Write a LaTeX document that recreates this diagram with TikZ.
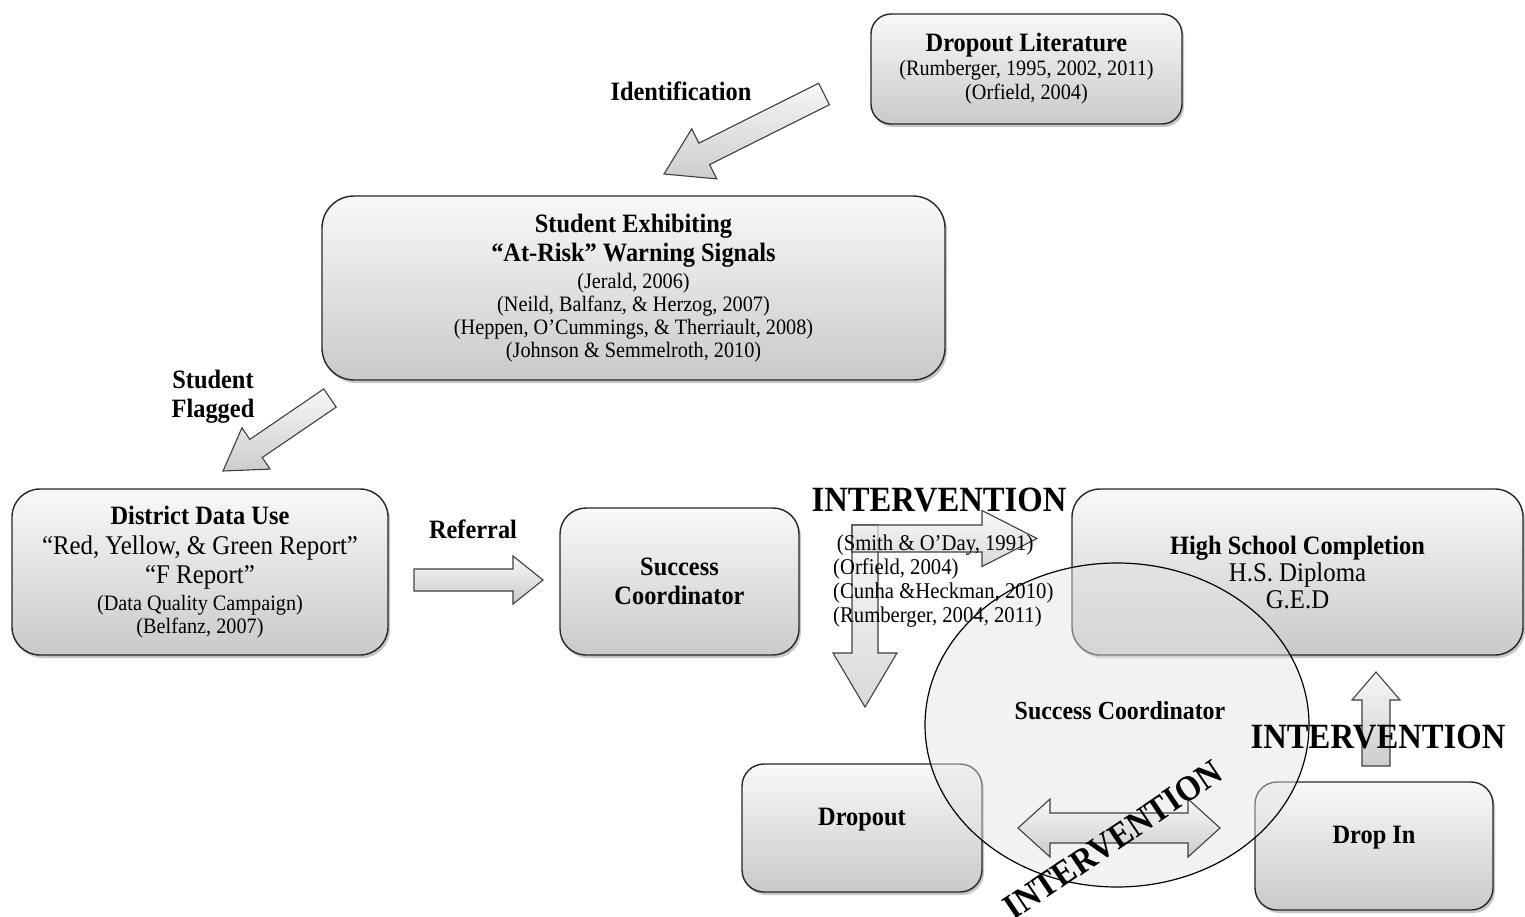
\documentclass[tikz,border=0pt]{standalone}
\usepackage{fontspec}
\setmainfont{Liberation Serif}[FakeStretch=0.92]
\usetikzlibrary{calc,shapes.geometric,shadows}
\newcommand\mytitlefont{\fontsize{26.5}{28}\selectfont\bfseries}
\newcommand\mymidfont{\fontsize{27}{27}\selectfont}
\newcommand\blockarr[6]{%
  \coordinate (ba-B) at ($(#3)!#6!(#2)$);
  \path[#1] ($(#2)!#4!90:(#3)$) -- ($(ba-B)!#4!-90:(#2)$) -- ($(ba-B)!#5!-90:(#2)$) -- (#3)
    -- ($(ba-B)!#5!90:(#2)$) -- ($(ba-B)!#4!90:(#2)$) -- ($(#2)!#4!-90:(#3)$) -- cycle;
}
\tikzset{
  box/.style={draw=black!85, line width=1.4pt, rounded corners=20pt, top color=gray!5, bottom color=gray!42,
    drop shadow={opacity=0.45, shadow xshift=2pt, shadow yshift=-3pt}, align=center, inner sep=0pt,
    font=\fontsize{22}{23}\selectfont},
  barrow/.style={draw=black!75, line width=1.1pt, top color=gray!6, bottom color=gray!40, line join=miter},
  lbl/.style={font=\fontsize{26.5}{29}\selectfont\bfseries, align=center, inner sep=0pt},
  big/.style={font=\fontsize{35.5}{38}\selectfont\bfseries, inner sep=0pt},
  cit/.style={font=\fontsize{22.5}{24}\selectfont, align=left, inner sep=0pt},
}
\begin{document}
\begin{tikzpicture}[x=1pt,y=-1pt]
\useasboundingbox (0,0) rectangle (1525,917);
% boxes
\node[box, minimum width=311, minimum height=110] (lit) at (1026.5,69)
  {{\mytitlefont Dropout Literature}\\[1pt](Rumberger, 1995, 2002, 2011)\\[1pt](Orfield, 2004)};
\node[box, rounded corners=32pt, minimum width=623, minimum height=184] (stu) at (633.5,288)
  {{\mytitlefont Student Exhibiting}\\[4pt]{\mytitlefont “At-Risk” Warning Signals}\\[4pt](Jerald, 2006)\\(Neild, Balfanz, \& Herzog, 2007)\\(Heppen, O’Cummings, \& Therriault, 2008)\\(Johnson \& Semmelroth, 2010)};
\node[box, rounded corners=28pt, minimum width=376, minimum height=166] (dist) at (200,572)
  {{\mytitlefont District Data Use}\\[7pt]{\mymidfont “Red, Yellow, \& Green Report”}\\[4pt]{\mymidfont “F Report”}\\[4pt](Data Quality Campaign)\\(Belfanz, 2007)};
\node[box, rounded corners=26pt, minimum width=239, minimum height=147] (sc) at (679.5,581.5)
  {{\mytitlefont Success}\\[6pt]{\mytitlefont Coordinator}};
\node[box, rounded corners=28pt, minimum width=451, minimum height=166, font=\fontsize{27}{27}\selectfont] (hsc) at (1297.5,572)
  {{\mytitlefont High School Completion}\\H.S. Diploma\\G.E.D};
\node[box, rounded corners=22pt, minimum width=240, minimum height=128, text depth=22pt] (drop) at (862,828)
  {\mytitlefont Dropout};
\node[box, rounded corners=22pt, minimum width=238, minimum height=128, text depth=22pt] (dropin) at (1374,846)
  {\mytitlefont Drop In};
% block arrows
\coordinate (idT) at (824,94);   \coordinate (idH) at (664,174);
\coordinate (sfT) at (330,398);  \coordinate (sfH) at (223,471);
\coordinate (rfT) at (414,580);  \coordinate (rfH) at (543,580);
\coordinate (ivT) at (865,525);  \coordinate (ivH) at (865,707);
\coordinate (ihT) at (852,538.5);\coordinate (ihH) at (1037,538.5);
\coordinate (upT) at (1376,766); \coordinate (upH) at (1376,672);
\blockarr{barrow}{idT}{idH}{12pt}{28pt}{45pt}
\blockarr{barrow}{sfT}{sfH}{11pt}{25pt}{40pt}
\blockarr{barrow}{rfT}{rfH}{11pt}{24pt}{30pt}
\blockarr{barrow, fill opacity=0.75}{ivT}{ivH}{13pt}{32pt}{54pt}
\blockarr{barrow, fill opacity=0.75}{ihT}{ihH}{13.5pt}{28pt}{55pt}
\blockarr{barrow}{upT}{upH}{14pt}{24pt}{28pt}
% success coordinator ellipse
\node[ellipse, draw=black, line width=1.2pt, fill=gray!22, fill opacity=0.45, minimum width=384, minimum height=324] (circ) at (1117,725) {};
\node[font=\fontsize{26}{28}\selectfont\bfseries, inner sep=0pt] (circT) at (1120,711) {Success Coordinator};
% double arrow
\path[barrow] (1018,828) -- (1050,799) -- (1050,813) -- (1188,813) -- (1188,799) -- (1220,828)
  -- (1188,857) -- (1188,843) -- (1050,843) -- (1050,857) -- cycle;
% labels
\node[lbl] (idL) at (681,91) {Identification};
\node[lbl] (sfL) at (213,397) {Student\\Flagged};
\node[lbl] (rfL) at (473,529) {Referral};
\node[big] (iv1) at (939,500) {INTERVENTION};
\node[cit, anchor=west] (ivc) at (833,581) {\,(Smith \& O’Day, 1991)\\(Orfield, 2004)\\(Cunha \&Heckman, 2010)\\(Rumberger, 2004, 2011)};
\node[big] (iv2) at (1378,737) {INTERVENTION};
\node[big, rotate=34] (iv3) at (1113,840) {INTERVENTION};
\end{tikzpicture}
\end{document}
